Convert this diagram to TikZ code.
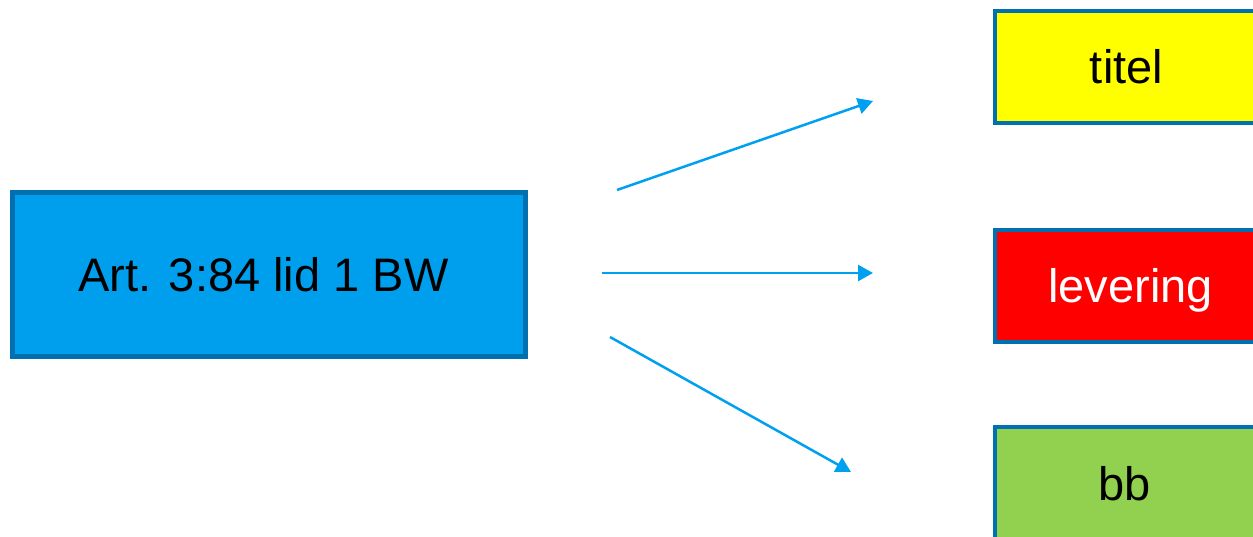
\documentclass[tikz,border=0pt]{standalone}
\usepackage{fontspec}
\setmainfont{Liberation Sans}
\usetikzlibrary{arrows.meta}

\definecolor{boxrand}{HTML}{0070B0}
\definecolor{artblauw}{HTML}{009FEE}
\definecolor{pijlblauw}{HTML}{00A0F0}
\definecolor{geel}{HTML}{FFFF00}
\definecolor{rood}{HTML}{FF0000}
\definecolor{groen}{HTML}{92D050}

\tikzset{
	vak/.style={draw=boxrand, line width=4pt, minimum width=262pt, minimum height=112pt,
		inner sep=0pt, text height=34pt, text depth=0pt, font=\fontsize{47}{56}\selectfont},
	pijl/.style={draw=pijlblauw, line width=2.5pt, -{Triangle[length=15pt,width=16pt]}}
}

\begin{document}
\begin{tikzpicture}[x=1pt,y=-1pt]
	\useasboundingbox (0,0) rectangle (1253,537);

	\node[vak, line width=5pt, fill=artblauw, minimum width=513pt, minimum height=164pt] (art) at (269,274.5) {Art. 3:84 lid 1 BW\hspace*{11pt}};

	\node[vak, fill=geel, minimum width=263pt] (titel) at (1126.5,67) {titel};
	\node[vak, fill=rood, text=white, minimum width=271pt] (levering) at (1130.5,286) {levering};
	\node[vak, fill=groen] (bb) at (1126,483) {bb\hspace*{3pt}};

	% pijlen
	\coordinate (s1) at (617,190);
	\coordinate (e1) at (873,101);
	\coordinate (s2) at (602,273);
	\coordinate (e2) at (873,273);
	\coordinate (s3) at (610,337);
	\coordinate (e3) at (851,472);
	\draw[pijl] (s1) -- (e1);
	\draw[pijl] (s2) -- (e2);
	\draw[pijl] (s3) -- (e3);
\end{tikzpicture}
\end{document}
